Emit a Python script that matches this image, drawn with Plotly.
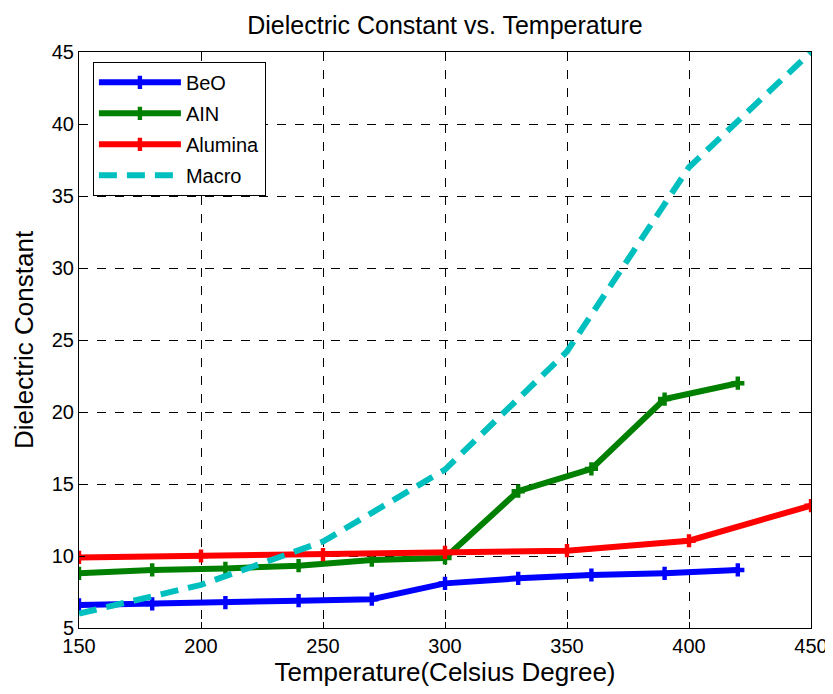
import plotly.graph_objects as go

beo_x = [150, 180, 210, 240, 270, 300, 330, 360, 390, 420]
beo_y = [6.6, 6.67, 6.76, 6.9, 7.0, 8.1, 8.45, 8.68, 8.8, 9.03]

aln_x = [150, 180, 210, 240, 270, 300, 330, 360, 390, 420]
aln_y = [8.8, 9.03, 9.14, 9.33, 9.72, 9.86, 14.5, 16.05, 20.9, 22.0]

alu_x = [150, 200, 250, 300, 350, 400, 450]
alu_y = [9.9, 10.0, 10.1, 10.25, 10.37, 11.06, 13.5]

mac_x = [150, 200, 250, 300, 350, 400, 450]
mac_y = [6.0, 8.0, 11.0, 16.0, 24.2, 37.0, 45.0]

xticks = [150, 200, 250, 300, 350, 400, 450]
yticks = [5, 10, 15, 20, 25, 30, 35, 40, 45]

FONT = "Liberation Sans, Arial, sans-serif"

fig = go.Figure()
fig.add_trace(go.Scatter(x=beo_x, y=beo_y, name="BeO", mode="lines+markers", legendgroup="a",
                         line=dict(color="#0000ff", width=6),
                         marker=dict(symbol="cross", size=11, color="#0000ff")))
fig.add_trace(go.Scatter(x=aln_x, y=aln_y, name="AIN", mode="lines+markers", legendgroup="b",
                         line=dict(color="#008000", width=6),
                         marker=dict(symbol="cross", size=11, color="#008000")))
fig.add_trace(go.Scatter(x=alu_x, y=alu_y, name="Alumina", mode="lines+markers", legendgroup="c",
                         line=dict(color="#ff0000", width=6),
                         marker=dict(symbol="cross", size=11, color="#ff0000")))
fig.add_trace(go.Scatter(x=mac_x, y=mac_y, name="Macro", mode="lines", legendgroup="d",
                         line=dict(color="#00bfbf", width=6, dash="18px,10px")))

axis_common = dict(showgrid=True, gridcolor="black", griddash="dash", gridwidth=0.6,
                   showline=True, linecolor="black", linewidth=1, mirror="ticks",
                   ticks="inside", ticklen=6, tickcolor="black",
                   tickfont=dict(family=FONT, size=20, color="black"),
                   zeroline=False)

fig.update_layout(
    width=833, height=694,
    paper_bgcolor="white", plot_bgcolor="white",
    margin=dict(l=71, r=30, t=44, b=74),
    title=dict(text="Dielectric Constant vs. Temperature", x=(445 - 8) / 833, xanchor="center",
               y=1 - 17 / 694, yanchor="middle",
               font=dict(family=FONT, size=25, color="black")),
    xaxis=dict(range=[150, 450], tickvals=xticks,
               title=dict(text="Temperature(Celsius Degree)", standoff=4,
                          font=dict(family=FONT, size=26, color="black")),
               **axis_common),
    yaxis=dict(range=[5, 45], tickvals=yticks,
               title=dict(text="Dielectric Constant", standoff=10,
                          font=dict(family=FONT, size=26, color="black")),
               **axis_common),
    legend=dict(x=0.019, y=0.983, xanchor="left", yanchor="top",
                bgcolor="white", bordercolor="black", borderwidth=1,
                font=dict(family=FONT, size=20, color="black"),
                itemwidth=82, tracegroupgap=2),
    showlegend=True,
)

fig.write_html("out.html")
